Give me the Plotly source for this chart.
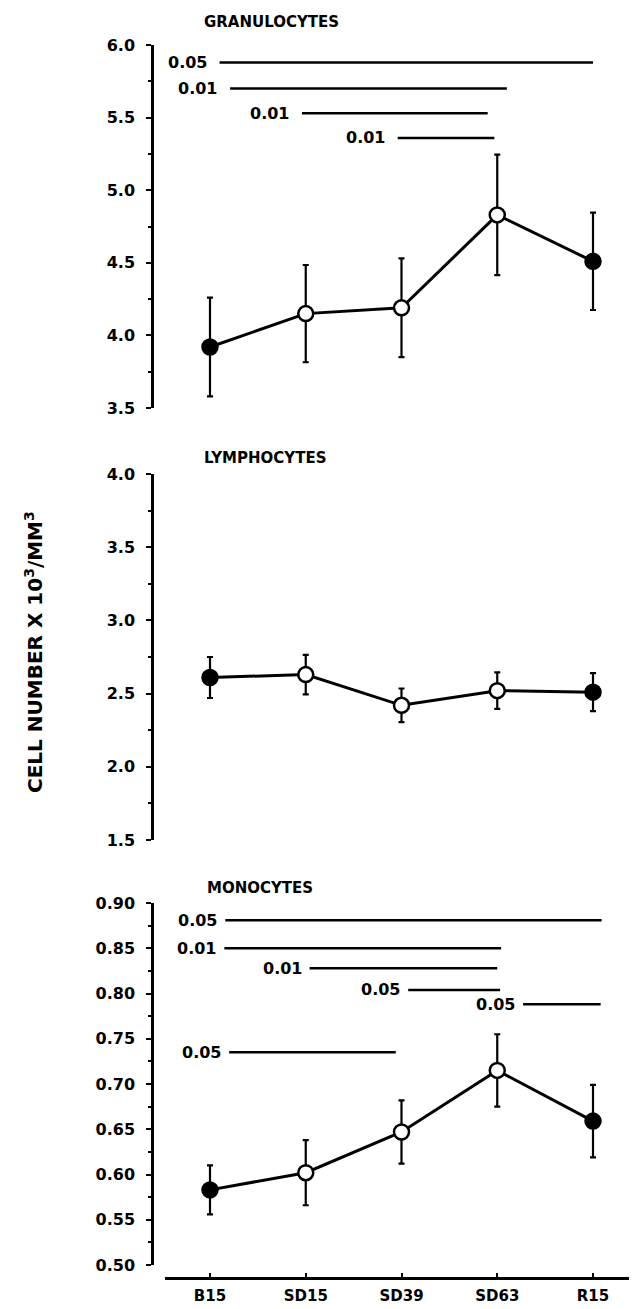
import plotly.graph_objects as go

OFF = 8  # page body margin of the browser
W, H = 637 - OFF, 1309 - OFF

categories = ["B15", "SD15", "SD39", "SD63", "R15"]
marker_fill = ["black", "white", "white", "white", "black"]

gran_mean = [3.92, 4.15, 4.19, 4.83, 4.51]
gran_err = [0.34, 0.335, 0.34, 0.415, 0.335]
lymph_mean = [2.61, 2.63, 2.42, 2.52, 2.51]
lymph_err = [0.14, 0.135, 0.115, 0.125, 0.13]
mono_mean = [0.583, 0.602, 0.647, 0.715, 0.659]
mono_err = [0.027, 0.036, 0.035, 0.040, 0.040]

gran_sig_p = ["0.05", "0.01", "0.01", "0.01"]
gran_sig_y = [5.88, 5.70, 5.53, 5.36]
gran_sig_x0 = [0.10, 0.21, 0.96, 1.96]
gran_sig_x1 = [4.00, 3.10, 2.90, 2.97]

mono_sig_p = ["0.05", "0.01", "0.01", "0.05", "0.05", "0.05"]
mono_sig_y = [0.881, 0.850, 0.828, 0.804, 0.788, 0.735]
mono_sig_x0 = [0.16, 0.15, 1.04, 2.07, 3.27, 0.20]
mono_sig_x1 = [4.09, 3.04, 3.00, 3.03, 4.08, 1.94]

gran_range = [3.5, 6.0]
lymph_range = [1.5, 4.0]
mono_range = [0.50, 0.90]

FONT = "DejaVu Sans"

def px(p):
    return (p - OFF) / W

def py(p):
    return (H - (p - OFF)) / H

yaxis_x = px(152)
x_dom = [px(165), 1.0]
x_range = [(165 - 210) / 95.75, (637 - 210) / 95.75]
doms = {
    "g": [py(408), py(45)],
    "l": [py(840), py(474)],
    "m": [py(1265), py(903)],
}

fig = go.Figure()

panels = [
    ("g", "x", "y", gran_mean, gran_err),
    ("l", "x2", "y2", lymph_mean, lymph_err),
    ("m", "x3", "y3", mono_mean, mono_err),
]
for key, xa, ya, mean, err in panels:
    fig.add_trace(go.Scatter(
        x=list(range(len(categories))), y=mean, xaxis=xa, yaxis=ya,
        mode="lines+markers",
        line=dict(color="black", width=3),
        marker=dict(size=15, color=marker_fill, line=dict(color="black", width=2.5)),
        error_y=dict(type="data", array=err, visible=True, color="black",
                     thickness=2.2, width=3),
        showlegend=False, hoverinfo="skip",
    ))

def sig(xa, ya, ps, ys, x0s, x1s, gap):
    for p, yv, a, b in zip(ps, ys, x0s, x1s):
        fig.add_trace(go.Scatter(
            x=[a, b], y=[yv, yv], xaxis=xa, yaxis=ya, mode="lines",
            line=dict(color="black", width=2.5), showlegend=False, hoverinfo="skip"))
        fig.add_annotation(x=a, y=yv, xref=xa, yref=ya, text=p, showarrow=False,
                           xanchor="right", yanchor="middle", xshift=-gap,
                           font=dict(family=FONT, size=16, color="black", weight="bold"))

sig("x", "y", gran_sig_p, gran_sig_y, gran_sig_x0, gran_sig_x1, 11)
sig("x3", "y3", mono_sig_p, mono_sig_y, mono_sig_x0, mono_sig_x1, 6)

tickfont = dict(family=FONT, size=16, color="black", weight="bold")

def yax(dom, rng, fmt, dt):
    return dict(domain=dom, range=rng, anchor="free", position=yaxis_x,
                showline=True, linecolor="black", linewidth=2.5,
                ticks="outside", ticklen=5, tickwidth=2, tickcolor="black",
                dtick=dt, tick0=rng[0], tickformat=fmt, tickfont=tickfont,
                ticklabelstandoff=8, showgrid=False, zeroline=False,
                minor=dict(dtick=dt / 2, ticks="outside", ticklen=3, tickwidth=2,
                           tickcolor="black", showgrid=False),
                automargin=False, fixedrange=True)

def yov(over, dom, rng, dt):
    return dict(domain=dom, range=rng, anchor="free", position=yaxis_x, overlaying=over,
                showline=False, ticks="inside", ticklen=5, tickwidth=2, tickcolor="black",
                dtick=dt, tick0=rng[0], showticklabels=False, showgrid=False, zeroline=False,
                minor=dict(dtick=dt / 2, ticks="inside", ticklen=3, tickwidth=2,
                           tickcolor="black", showgrid=False),
                automargin=False)

hidden_x = dict(domain=x_dom, range=x_range, visible=False, fixedrange=True)

fig.update_layout(
    width=W, height=H,
    margin=dict(l=0, r=0, t=0, b=0),
    paper_bgcolor="white", plot_bgcolor="white",
    xaxis=dict(hidden_x, anchor="y"),
    xaxis2=dict(hidden_x, anchor="y2"),
    xaxis3=dict(domain=x_dom, range=x_range, anchor="free", position=py(1278),
                showline=True, linecolor="black", linewidth=2.5,
                tickmode="array", tickvals=list(range(len(categories))), ticktext=categories,
                ticks="inside", ticklen=4, tickwidth=2, tickcolor="black",
                tickfont=dict(family=FONT, size=15, color="black", weight="bold"),
                ticklabelstandoff=3, showgrid=False, zeroline=False, automargin=False,
                fixedrange=True),
    yaxis=yax(doms["g"], gran_range, ".1f", 0.5),
    yaxis2=yax(doms["l"], lymph_range, ".1f", 0.5),
    yaxis3=yax(doms["m"], mono_range, ".2f", 0.05),
    yaxis4=yov("y", doms["g"], gran_range, 0.5),
    yaxis5=yov("y2", doms["l"], lymph_range, 0.5),
    yaxis6=yov("y3", doms["m"], mono_range, 0.05),
)

titlefont = dict(family=FONT, size=15, color="black", weight="bold")
for text, xp, yp in [("GRANULOCYTES", 202, 22), ("LYMPHOCYTES", 202, 458), ("MONOCYTES", 205, 888)]:
    fig.add_annotation(x=px(xp), y=py(yp), xref="paper", yref="paper", text=text,
                       showarrow=False, xanchor="left", yanchor="middle", font=titlefont)

fig.add_annotation(x=px(34), y=py(652), xref="paper", yref="paper",
                   text="CELL NUMBER X 10<sup>3</sup>/MM<sup>3</sup>", textangle=-90,
                   showarrow=False, xanchor="center", yanchor="middle",
                   font=dict(family=FONT, size=20, color="black", weight="bold"))

fig.write_html("out.html")
